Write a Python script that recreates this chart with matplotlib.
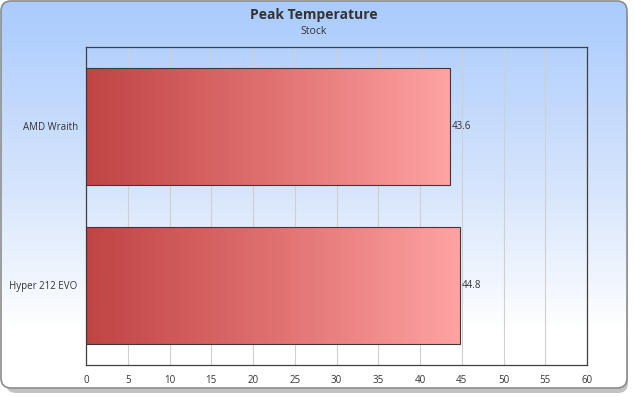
import numpy as np
import matplotlib.pyplot as plt
from matplotlib.patches import FancyBboxPatch
from matplotlib.colors import LinearSegmentedColormap

plt.rcParams['font.family'] = ['Open Sans', 'DejaVu Sans']

coolers = ['AMD Wraith', 'Hyper 212 EVO']
peak_temp = [43.6, 44.8]
x_ticks = list(range(0, 61, 5))

W, H = 635, 397
fig = plt.figure(figsize=(W / 100, H / 100), dpi=100)
fig.patch.set_facecolor('white')

# background panel with shadow and blue gradient
bg = fig.add_axes([0, 0, 1, 1])
bg.set_xlim(0, W)
bg.set_ylim(H, 0)
bg.axis('off')
shadow = FancyBboxPatch((6, 6), 622, 387, boxstyle='round,pad=0,rounding_size=10',
                        facecolor='#9a9a9a', edgecolor='none', alpha=0.6)
bg.add_patch(shadow)
panel = FancyBboxPatch((1, 1), 626, 387, boxstyle='round,pad=0,rounding_size=10',
                       facecolor='white', edgecolor='#8c8c8c', linewidth=1.2)
bg.add_patch(panel)
grad_cmap = LinearSegmentedColormap.from_list(
    'bg', [(0.0, '#a9cbfe'), (0.5, '#d8e6fc'), (0.85, '#ffffff'), (1.0, '#ffffff')])
grad = np.linspace(0, 1, 256).reshape(-1, 1)
im = bg.imshow(grad, cmap=grad_cmap, extent=(1, 627, 388, 1), aspect='auto', zorder=1)
im.set_clip_path(panel)
panel.set_zorder(2)
panel.set_facecolor('none')

fig.text(0.5 * 627 / W, 1 - 15 / H, 'Peak Temperature', ha='center', va='center',
         fontsize=10, fontweight='bold', color='#333333')
fig.text(0.5 * 627 / W, 1 - 31 / H, 'Stock', ha='center', va='center',
         fontsize=7.5, color='#333333')

ax = fig.add_axes([86 / W, 1 - 365 / H, (587 - 86) / W, (365 - 47) / H])
ax.set_facecolor('none')
ypos = np.arange(len(coolers))
bars = ax.barh(ypos, peak_temp, height=0.74, facecolor='none',
               edgecolor='#3a3a3a', linewidth=0.8, zorder=3)

bar_cmap = LinearSegmentedColormap.from_list('bar', ['#c04444', '#e07070', '#ffa3a3'])
row = np.linspace(0, 1, 256).reshape(1, -1)
for b in bars:
    x0, y0 = b.get_x(), b.get_y()
    w, h = b.get_width(), b.get_height()
    g = ax.imshow(row, cmap=bar_cmap, extent=(x0, x0 + w, y0 + h, y0),
                  aspect='auto', zorder=2)
    g.set_clip_path(b)

for y, v in zip(ypos, peak_temp):
    ax.text(v + 0.15, y, f'{v}', va='center', ha='left', fontsize=7, color='#333333')

ax.set_xlim(0, 60)
ax.set_ylim(1.5, -0.5)
ax.set_xticks(x_ticks)
ax.set_yticks(ypos)
ax.set_yticklabels(coolers)
ax.tick_params(length=0, labelsize=7, colors='#333333', pad=6)
ax.tick_params(axis='x', pad=7)
ax.grid(axis='x', color='#d0d0d0', linewidth=0.8, zorder=0)
ax.set_axisbelow(True)
for s in ax.spines.values():
    s.set_color('#404040')
    s.set_linewidth(0.9)

fig.savefig('out.png', dpi=100)
